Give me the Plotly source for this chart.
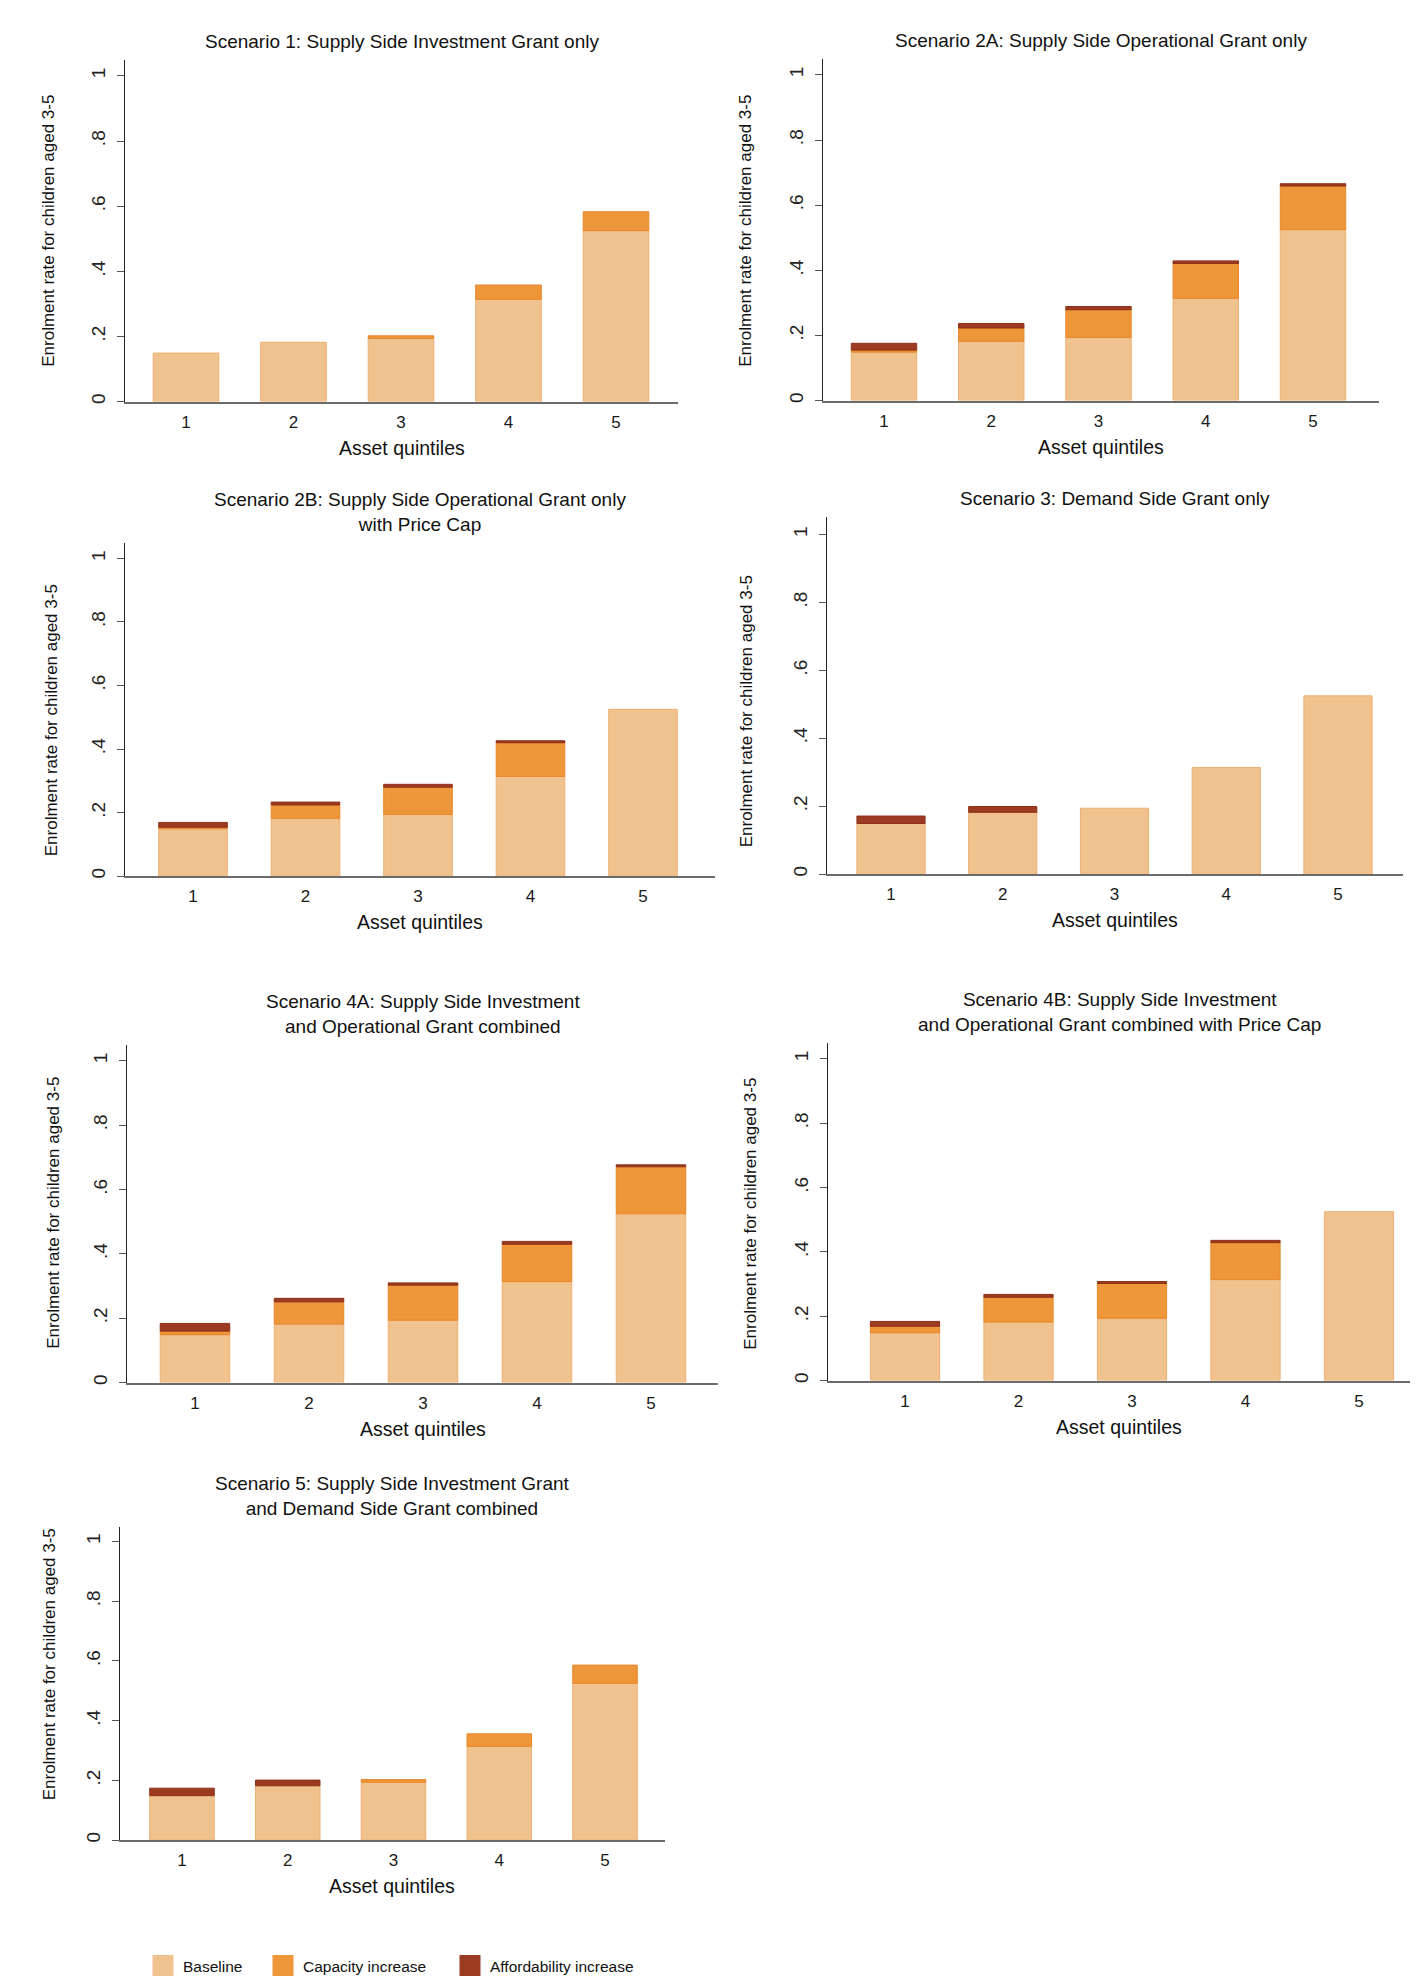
import plotly.graph_objects as go

# ---------------- data ----------------
quintiles = [1, 2, 3, 4, 5]
baseline = [0.149, 0.182, 0.194, 0.314, 0.525]

cap_s1 = [0.0, 0.0, 0.008, 0.044, 0.058]
aff_s1 = [0.0, 0.0, 0.0, 0.0, 0.0]
cap_s2a = [0.006, 0.041, 0.085, 0.107, 0.134]
aff_s2a = [0.021, 0.014, 0.010, 0.008, 0.007]
cap_s2b = [0.005, 0.042, 0.086, 0.106, 0.0]
aff_s2b = [0.015, 0.009, 0.009, 0.006, 0.0]
cap_s3 = [0.0, 0.0, 0.0, 0.0, 0.0]
aff_s3 = [0.022, 0.017, 0.0, 0.0, 0.0]
cap_s4a = [0.011, 0.069, 0.109, 0.116, 0.146]
aff_s4a = [0.024, 0.011, 0.007, 0.009, 0.006]
cap_s4b = [0.020, 0.077, 0.108, 0.115, 0.0]
aff_s4b = [0.015, 0.009, 0.006, 0.007, 0.0]
cap_s5 = [0.0, 0.0, 0.009, 0.042, 0.061]
aff_s5 = [0.025, 0.019, 0.0, 0.0, 0.0]

titles = [
    "Scenario 1: Supply Side Investment Grant only",
    "Scenario 2A: Supply Side Operational Grant only",
    "Scenario 2B: Supply Side Operational Grant only<br>with Price Cap",
    "Scenario 3: Demand Side Grant only",
    "Scenario 4A: Supply Side Investment<br>and Operational Grant combined",
    "Scenario 4B: Supply Side Investment<br>and Operational Grant combined with Price Cap",
    "Scenario 5: Supply Side Investment Grant<br>and Demand Side Grant combined",
]
capacity = [cap_s1, cap_s2a, cap_s2b, cap_s3, cap_s4a, cap_s4b, cap_s5]
afford = [aff_s1, aff_s2a, aff_s2b, aff_s3, aff_s4a, aff_s4b, aff_s5]

series_names = ["Baseline", "Capacity increase", "Affordability increase"]
ytick_vals = [0, 0.2, 0.4, 0.6, 0.8, 1]
ytick_text = ["0", ".2", ".4", ".6", ".8", "1"]
y_title = "Enrolment rate for children aged 3-5"
x_title = "Asset quintiles"

# ---------------- layout geometry (pixels) ----------------
W, H = 1427, 1978
# (axis left, axis right, centre of bar 1, centre of bar 5, y of 0, y of 1, ytitle offset, ytitle centre y)
panels = [
    (117, 670, 178, 608, 394, 68, 76, 223),
    (815, 1371, 876, 1305, 393, 67, 77, 223),
    (117, 707, 185, 635, 869, 551, 74, 713),
    (819, 1395, 883, 1330, 867, 527, 81, 704),
    (119, 710, 187, 643, 1376, 1054, 73, 1206),
    (820, 1402, 897, 1351, 1374, 1052, 77, 1207),
    (112, 657, 174, 597, 1834, 1535, 71, 1658),
]
YMAX = 1.05

COL_BASE = "#F0C28D"
COL_CAP = "#ED963A"
COL_AFF = "#9C3B22"
LINE_BASE = "#EDAF73"
LINE_CAP = "#E8872B"
LINE_AFF = "#8E3019"

TITLE_FONT = "Liberation Sans, Arial, sans-serif"
REG_FONT = "Liberation Sans, Arial, sans-serif"

fig = go.Figure()
annotations = []


def nz(vals):
    return [v if v > 0 else None for v in vals]


for i, (xl, xr, xc1, xc5, y0, y1, yoff, ymid) in enumerate(panels):
    k = "" if i == 0 else str(i + 1)
    xa, ya = "x" + k, "y" + k
    s = (xc5 - xc1) / 4.0
    xr0 = 1 - (xc1 - xl) / s
    xr1 = 5 + (xr - xc5) / s
    ppu = y0 - y1
    ytop = y0 - YMAX * ppu

    for name, vals, base, col, lcol in [
        (series_names[0], baseline, None, COL_BASE, LINE_BASE),
        (series_names[1], nz(capacity[i]), baseline, COL_CAP, LINE_CAP),
        (series_names[2], nz(afford[i]), [b + c for b, c in zip(baseline, capacity[i])], COL_AFF, LINE_AFF),
    ]:
        fig.add_trace(go.Bar(
            x=quintiles, y=vals, base=base, name=name, width=0.61,
            marker=dict(color=col, line=dict(color=lcol, width=1)),
            xaxis=xa, yaxis=ya, showlegend=False,
        ))

    fig.layout["xaxis" + k] = dict(
        domain=[xl / W, xr / W], anchor=ya, range=[xr0, xr1],
        tickvals=quintiles, ticktext=[str(q) for q in quintiles],
        ticks="", showgrid=False, zeroline=False,
        showline=True, linecolor="#6b6b6b", linewidth=1.6,
        tickfont=dict(family=TITLE_FONT, size=17, color="#1a1a1a"),
        ticklabelstandoff=4, fixedrange=True,
    )
    fig.layout["yaxis" + k] = dict(
        domain=[1 - y0 / H, 1 - ytop / H], anchor=xa, range=[0, YMAX],
        tickvals=ytick_vals, ticktext=ytick_text, tickangle=-90,
        ticks="outside", ticklen=7, tickcolor="#555555", tickwidth=1,
        showgrid=False, zeroline=False,
        showline=True, linecolor="#222222", linewidth=1,
        tickfont=dict(family=REG_FONT, size=19, color="#222222"),
        ticklabelstandoff=4, fixedrange=True,
    )

    cx = (xl + xr) / 2.0 / W
    annotations.append(dict(
        text=titles[i], x=cx, y=1 - ytop / H, xref="paper", yref="paper",
        xanchor="center", yanchor="bottom", yshift=6, showarrow=False,
        font=dict(family=TITLE_FONT, size=19, color="#111111"),
    ))
    annotations.append(dict(
        text=x_title, x=cx, y=1 - (y0 + 46) / H, xref="paper", yref="paper",
        xanchor="center", yanchor="middle", showarrow=False,
        font=dict(family=TITLE_FONT, size=19.5, color="#111111"),
    ))
    annotations.append(dict(
        text=y_title, x=(xl - yoff) / W, y=1 - ymid / H, xref="paper", yref="paper",
        xanchor="center", yanchor="middle", textangle=-90, showarrow=False,
        font=dict(family=REG_FONT, size=17, color="#111111"),
    ))

# legend entries (one legend per entry so each can be placed as in the original)
legend_x = [135, 255, 442]
legend_ids = ["legend", "legend2", "legend3"]
for name, col, lcol, lid in zip(series_names, [COL_BASE, COL_CAP, COL_AFF],
                                [LINE_BASE, LINE_CAP, LINE_AFF], legend_ids):
    fig.add_trace(go.Scatter(
        x=[None], y=[None], mode="markers", name=name, legend=lid,
        marker=dict(symbol="square", size=16, color=col, line=dict(color=col, width=5)),
        showlegend=True, xaxis="x7", yaxis="y7",
    ))

legend_common = dict(
    orientation="h", y=1 - 1960 / H, xanchor="left", yanchor="middle",
    font=dict(family=TITLE_FONT, size=15.5, color="#111111"),
    itemsizing="trace", bgcolor="rgba(0,0,0,0)", borderwidth=0,
)
fig.update_layout(
    width=W, height=H, margin=dict(l=0, r=0, t=0, b=0),
    paper_bgcolor="white", plot_bgcolor="white",
    barmode="overlay", showlegend=True,
    legend=dict(x=legend_x[0] / W, **legend_common),
    legend2=dict(x=legend_x[1] / W, **legend_common),
    legend3=dict(x=legend_x[2] / W, **legend_common),
    annotations=annotations,
)

fig.write_html("out.html")
